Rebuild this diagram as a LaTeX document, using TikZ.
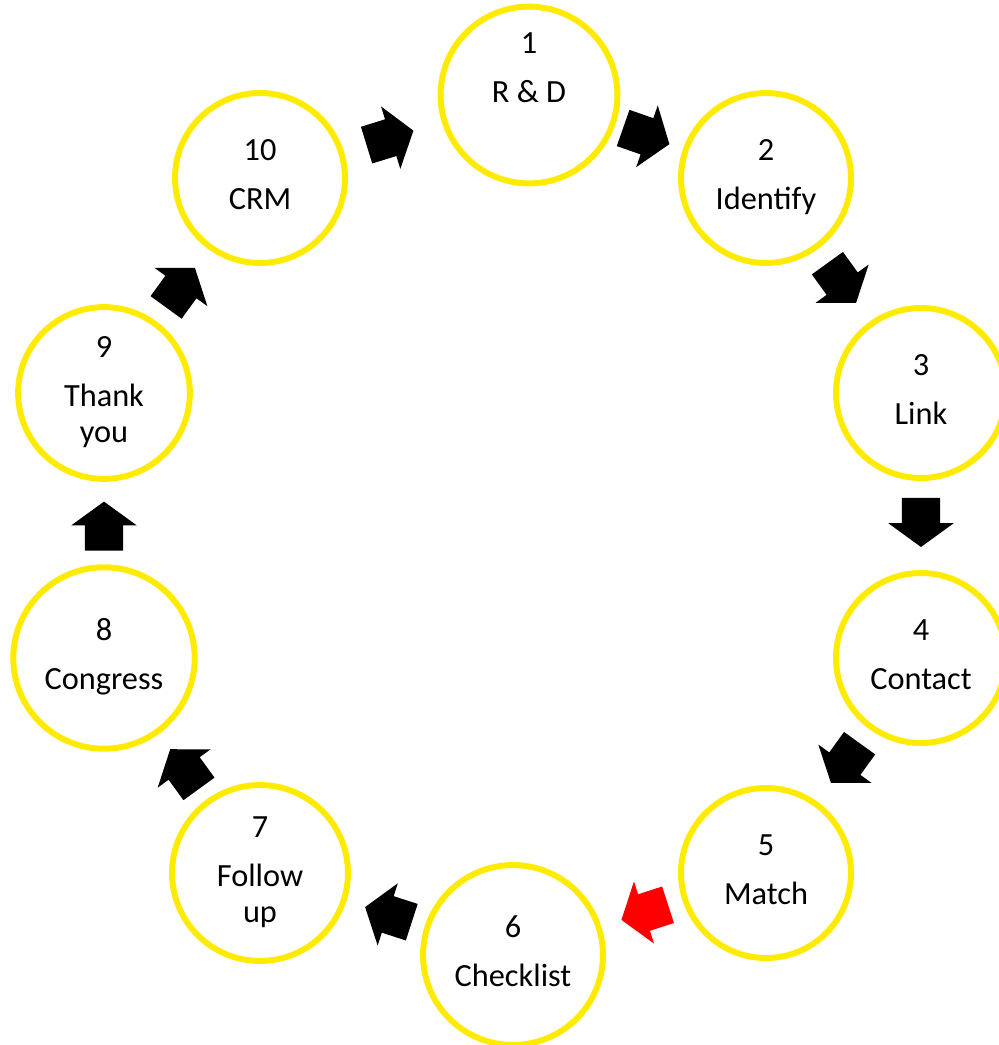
\documentclass[tikz,border=0pt]{standalone}
\usepackage{fontspec}
\setmainfont{Carlito}
\usetikzlibrary{shapes.arrows, positioning}

\definecolor{stageyellow}{RGB}{255,235,0}

\begin{document}
\begin{tikzpicture}[
    stage/.style={circle, draw=stageyellow, line width=1.7pt, minimum size=1.7cm, inner sep=0pt, font=\fontsize{9.2}{10.24}\selectfont},
    blockarrow/.style={single arrow, fill=black, draw=none, minimum height=0.49cm, single arrow head extend=0.135cm, single arrow tip angle=108, inner xsep=0pt, inner ysep=0.185cm, sloped, allow upside down, xshift=-0.1cm}
]
\useasboundingbox (0,0) rectangle (9.98,-10.45);

\node[stage] (c1) at (5.29,-0.95) {
    \begin{tabular}{c}
        1 \\[3.7pt]
        R \& D \\[3.7pt]
        ~
    \end{tabular}
};
\node[stage] (c2) at (7.66,-1.78) {
    \begin{tabular}{c}
        2 \\[3.7pt]
        Identify
    \end{tabular}
};
\node[stage] (c3) at (9.21,-3.93) {
    \begin{tabular}{c}
        3 \\[3.7pt]
        Link
    \end{tabular}
};
\node[stage] (c4) at (9.21,-6.58) {
    \begin{tabular}{c}
        4 \\[3.7pt]
        Contact
    \end{tabular}
};
\node[stage] (c5) at (7.66,-8.73) {
    \begin{tabular}{c}
        5 \\[3.7pt]
        Match
    \end{tabular}
};
\node[stage] (c6) at (5.13,-9.55) {
    \begin{tabular}{c}
        6 \\[3.7pt]
        Checklist
    \end{tabular}
};
\node[stage] (c7) at (2.60,-8.73) {
    \begin{tabular}{c}
        7 \\[3.7pt]
        Follow \\
        up
    \end{tabular}
};
\node[stage] (c8) at (1.04,-6.58) {
    \begin{tabular}{c}
        8 \\[3.7pt]
        Congress
    \end{tabular}
};
\node[stage] (c9) at (1.04,-3.93) {
    \begin{tabular}{c}
        9 \\[3.7pt]
        Thank \\
        you
    \end{tabular}
};
\node[stage] (c10) at (2.60,-1.78) {
    \begin{tabular}{c}
        10 \\[3.7pt]
        CRM
    \end{tabular}
};

% arrows between the stages
\path (c10) -- node[blockarrow] (a10) {} (c1);
\path (c1) -- node[blockarrow] (a1) {} (c2);
\path (c2) -- node[blockarrow] (a2) {} (c3);
\path (c3) -- node[blockarrow] (a3) {} (c4);
\path (c4) -- node[blockarrow] (a4) {} (c5);
\path (c5) -- node[blockarrow, fill=red] (a5) {} (c6);
\path (c6) -- node[blockarrow] (a6) {} (c7);
\path (c7) -- node[blockarrow] (a7) {} (c8);
\path (c8) -- node[blockarrow] (a8) {} (c9);
\path (c9) -- node[blockarrow] (a9) {} (c10);
\end{tikzpicture}
\end{document}
